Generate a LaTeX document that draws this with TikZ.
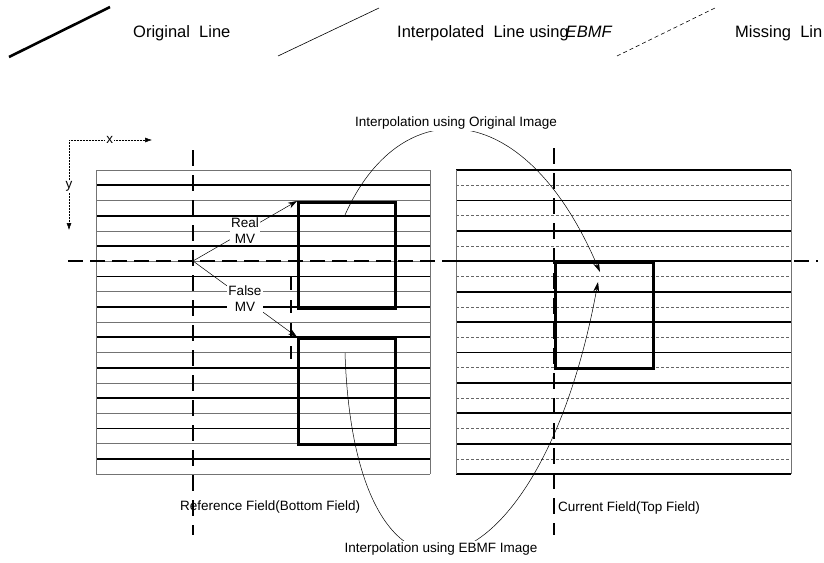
\documentclass[tikz,border=0pt]{standalone}
\usepackage{fontspec}
\setmainfont{Liberation Sans}
\usepackage{tikz}
\usetikzlibrary{arrows.meta, positioning, calc}
\newcommand{\lbfont}{\fontsize{13.5}{16}\selectfont}
\newcommand{\legfont}{\fontsize{16.5}{18}\selectfont}
\begin{document}
\begin{tikzpicture}[x=1pt, y=-1pt,
    orig/.style={line width=1.8pt, black},
    interp/.style={line width=0.6pt, black!55},
    miss/.style={line width=0.6pt, black!60, dash pattern=on 3pt off 2pt},
    border/.style={line width=0.6pt, black!55},
    cline/.style={line width=1.6pt, dash pattern=on 15pt off 7pt},
    vline/.style={line width=1.6pt, dash pattern=on 16pt off 9pt},
    mvbox/.style={rectangle, draw, line width=2.6pt, anchor=north west,
                  minimum width=97pt, minimum height=106pt, inner sep=0pt},
    mv/.style={-{Stealth[length=9pt,width=6pt]}, line width=0.5pt},
    mvlbl/.style={fill=white, inner sep=1pt, align=center, font=\lbfont},
    flow/.style={-{Stealth[length=10pt,width=6pt]}, line width=0.5pt},
    lbl/.style={font=\lbfont, inner sep=2pt},
    leg/.style={font=\legfont, anchor=west, inner sep=0pt},
    axis/.style={-{Latex[length=7pt,width=5pt]}, line width=0.5pt, densely dotted}
]
\useasboundingbox (0,0) rectangle (824,562);

% Legend
\draw[line width=2.6pt] (9,57) -- (110,7);
\node[leg] (legorig) at (133,33) {Original\ \ Line};
\draw[line width=0.6pt] (278,56) -- (379,8);
\node[leg] (leginterp) at (397,33) {Interpolated\ \ Line using\kern-3pt\textit{EBMF}};
\draw[line width=0.6pt, dash pattern=on 4pt off 3pt] (617,56) -- (717,7);
\node[leg] (legmiss) at (735,33) {Missing\ \ Lin};

% Axes
\coordinate (ax) at (69,140);
\coordinate (axx) at (152,140);
\coordinate (axy) at (69,230);
\draw[axis] (ax) -- node[fill=white, inner sep=1pt, font=\lbfont, pos=0.49] (xlbl) {x} (axx);
\draw[axis] (ax) -- node[fill=white, inner sep=1pt, font=\lbfont, pos=0.52] (ylbl) {y} (axy);

% Reference field
\foreach \k in {0,2,...,20}
  \draw[interp] (96,{170+15.2*\k}) -- (430,{170+15.2*\k});
\foreach \k in {1,3,...,19}
  \draw[orig] (96,{170+15.2*\k}) -- (430,{170+15.2*\k});
\draw[border] (96,170) -- (96,474);
\draw[border] (430,170) -- (430,474);

% Current field
\foreach \k in {1,3,...,19}
  \draw[miss] (456,{170+15.2*\k}) -- (791,{170+15.2*\k});
\foreach \k in {0,2,...,20}
  \draw[orig] (456,{170+15.2*\k}) -- (791,{170+15.2*\k});
\draw[border] (456,170) -- (456,474);
\draw[border] (791,170) -- (791,474);

% Centre and column lines
\draw[cline] (68,261) -- (818,261);
\draw[vline] (193,150) -- (193,535);
\draw[vline] (554,148) -- (554,535);
\draw[vline, line width=1.2pt, dash pattern=on 13pt off 10pt] (291,277) -- (291,366);

% Blocks
\node[mvbox] (refup) at (297,201) {};
\node[mvbox] (reflow) at (297,337) {};
\node[mvbox, minimum width=98pt] (cur) at (554,261) {};

% Motion vectors
\coordinate (org) at (193,261);
\draw[mv] (org) -- node[mvlbl] (real) {Real\\MV} (refup.north west);
\draw[mv] (org) -- node[mvlbl] (false) {False\\MV} (reflow.north west);

% Interpolation paths
\coordinate (upsrc) at (345,215);
\coordinate (lowsrc) at (345,353);
\coordinate (uptgt) at (600,272);
\coordinate (lowtgt) at (598,282);
\draw[flow] (upsrc) .. controls (398,95) and (522,90) .. (uptgt);
\draw[flow] (lowsrc) .. controls (355,655) and (540,600) .. (lowtgt);
\node[lbl, fill=white] (iporig) at (456,123) {Interpolation using Original Image};
\node[lbl, fill=white] (ipebmf) at (441,549) {Interpolation using EBMF Image};

% Field captions
\node[lbl, anchor=west, inner sep=0pt] (refcap) at (180,507) {Reference Field(Bottom Field)};
\node[lbl, anchor=west, inner sep=0pt] (curcap) at (558,508) {Current Field(Top Field)};

\end{tikzpicture}
\end{document}
